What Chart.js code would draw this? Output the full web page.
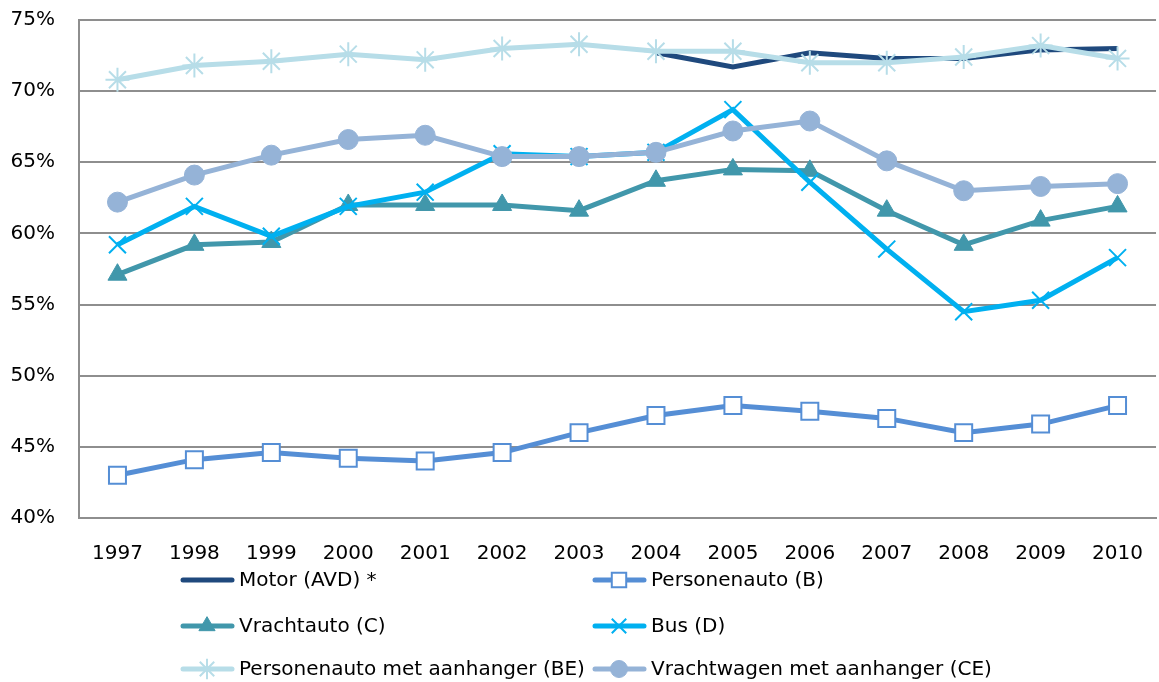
<!DOCTYPE html>
<html>
<head>
<meta charset="utf-8">
<script src="https://cdn.jsdelivr.net/npm/chart.js@4/dist/chart.umd.min.js"></script>
<style>
  html, body { margin: 0; padding: 0; background: #fff; }
  #wrap { width: 1159px; height: 682px; }
</style>
</head>
<body>
<div id="wrap"><canvas id="trendChart"></canvas></div>
<script>
const years = ['1997', '1998', '1999', '2000', '2001', '2002', '2003', '2004', '2005', '2006', '2007', '2008', '2009', '2010'];

const motorAVD = [null, null, null, null, null, null, null, 72.7, 71.7, 72.7, 72.3, 72.3, 72.9, 73.0];
const personenautoB = [43.0, 44.1, 44.6, 44.2, 44.0, 44.6, 46.0, 47.2, 47.9, 47.5, 47.0, 46.0, 46.6, 47.9];
const vrachtautoC = [57.1, 59.2, 59.4, 62.0, 62.0, 62.0, 61.6, 63.7, 64.5, 64.4, 61.6, 59.2, 60.9, 61.9];
const busD = [59.2, 61.9, 59.8, 61.9, 62.9, 65.6, 65.4, 65.7, 68.7, 63.6, 58.9, 54.5, 55.3, 58.3];
const personenautoBE = [70.8, 71.8, 72.1, 72.6, 72.2, 73.0, 73.3, 72.8, 72.8, 72.0, 72.0, 72.4, 73.2, 72.3];
const vrachtwagenCE = [62.2, 64.1, 65.5, 66.6, 66.9, 65.4, 65.4, 65.7, 67.2, 67.9, 65.1, 63.0, 63.3, 63.5];

const yTicks = [40, 45, 50, 55, 60, 65, 70, 75];

const FONT = "'DejaVu Sans', sans-serif";
const gridGray = '#8e8e8e';

const chartEl = document.getElementById('trendChart');

// legend drawn on the canvas: two columns, line + marker + text
const legendPlugin = {
    id: 'twoColLegend',
    afterDraw(chart) {
        const ctx = chart.ctx;
        const cols = [181, 593];
        const rows = [580, 626, 669];
        chart.data.datasets.forEach((ds, i) => {
            const x = cols[i % 2];
            const y = rows[Math.floor(i / 2)];
            ctx.save();
            ctx.strokeStyle = ds.borderColor;
            ctx.lineWidth = 5;
            ctx.lineCap = 'round';
            ctx.beginPath();
            ctx.moveTo(x + 2, y);
            ctx.lineTo(x + 51, y);
            ctx.stroke();
            if (ds.pointRadius > 0) {
                ctx.lineCap = 'butt';
                ctx.fillStyle = ds.pointBackgroundColor;
                ctx.strokeStyle = ds.pointBorderColor;
                ctx.lineWidth = ds.pointBorderWidth;
                Chart.helpers.drawPoint(ctx, {
                    pointStyle: ds.pointStyle,
                    radius: ds.pointRadius * 0.85,
                    rotation: 0,
                    borderWidth: ds.pointBorderWidth
                }, x + 26, y);
            }
            ctx.fillStyle = '#000';
            ctx.font = '20px ' + FONT;
            ctx.textBaseline = 'middle';
            ctx.textAlign = 'left';
            ctx.fillText(ds.label, x + 58, y + 1);
            ctx.restore();
        });
    }
};

new Chart(chartEl, {
    type: 'line',
    data: {
        labels: years,
        datasets: [
            {
                label: 'Motor (AVD) *',
                data: motorAVD,
                borderColor: '#1f497d',
                borderWidth: 5,
                pointRadius: 0,
                order: 5,
            },
            {
                label: 'Personenauto (B)',
                data: personenautoB,
                borderColor: '#558ed5',
                borderWidth: 5,
                pointStyle: 'rect',
                pointRadius: 12,
                pointBackgroundColor: '#ffffff',
                pointBorderColor: '#558ed5',
                pointBorderWidth: 2,
                order: 4,
            },
            {
                label: 'Vrachtauto (C)',
                data: vrachtautoC,
                borderColor: '#4197ab',
                borderWidth: 5,
                pointStyle: 'triangle',
                pointRadius: 11,
                pointBackgroundColor: '#4197ab',
                pointBorderColor: '#4197ab',
                pointBorderWidth: 1,
                order: 3,
            },
            {
                label: 'Bus (D)',
                data: busD,
                borderColor: '#00b0f0',
                borderWidth: 5,
                pointStyle: 'crossRot',
                pointRadius: 12,
                pointBackgroundColor: '#00b0f0',
                pointBorderColor: '#00b0f0',
                pointBorderWidth: 2,
                order: 2,
            },
            {
                label: 'Personenauto met aanhanger (BE)',
                data: personenautoBE,
                borderColor: '#b7dde8',
                borderWidth: 5,
                pointStyle: 'star',
                pointRadius: 12,
                pointBackgroundColor: '#b7dde8',
                pointBorderColor: '#b7dde8',
                pointBorderWidth: 2,
                order: 1,
            },
            {
                label: 'Vrachtwagen met aanhanger (CE)',
                data: vrachtwagenCE,
                borderColor: '#95b3d7',
                borderWidth: 5,
                pointStyle: 'circle',
                pointRadius: 10,
                pointBackgroundColor: '#95b3d7',
                pointBorderColor: '#95b3d7',
                pointBorderWidth: 1,
                order: 0,
            },
        ],
    },
    options: {
        responsive: true,
        maintainAspectRatio: false,
        animation: false,
        spanGaps: false,
        layout: {
            autoPadding: false,
            padding: { top: 20, right: -3, bottom: 0, left: 0 },
        },
        plugins: {
            legend: { display: false },
            tooltip: { enabled: false },
        },
        scales: {
            x: {
                offset: true,
                grid: { display: false },
                border: { display: true, color: gridGray, width: 2 },
                ticks: {
                    color: '#000',
                    font: { family: FONT, size: 20 },
                    padding: 16,
                    maxRotation: 0,
                    minRotation: 0,
                    autoSkip: false,
                },
                afterFit: (scale) => { scale.height = 164; },
            },
            y: {
                min: 40,
                max: 75,
                afterBuildTicks: (scale) => { scale.ticks = yTicks.map((v) => ({ value: v })); },
                grid: { color: gridGray, lineWidth: 2, drawTicks: false },
                border: { display: true, color: gridGray, width: 2 },
                ticks: {
                    color: '#000',
                    font: { family: FONT, size: 20 },
                    padding: 24,
                    callback: (v) => v + '%',
                },
                afterFit: (scale) => {
                    scale.width = 79;
                    scale.paddingTop = 0;
                    scale.paddingBottom = 0;
                },
            },
        },
    },
    plugins: [legendPlugin],
});
</script>
</body>
</html>
